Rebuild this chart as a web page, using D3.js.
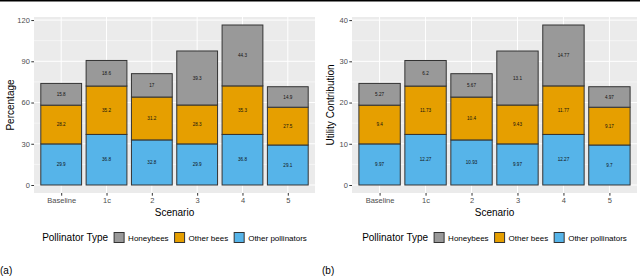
<!DOCTYPE html>
<html><head><meta charset="utf-8">
<script src="https://cdn.jsdelivr.net/npm/d3@7"></script>
<style>body{margin:0;background:#fff;} svg{display:block;font-family:"Liberation Sans",Arial,sans-serif;}</style>
</head><body>
<svg id="c" width="640" height="277"></svg>
<script>
const scenarios = ["Baseline","1c","2","3","4","5"];
const types = ["Other pollinators","Other bees","Honeybees"];
const legendOrder = ["Honeybees","Other bees","Other pollinators"];
const colors = {"Honeybees":"#999999","Other bees":"#E69F00","Other pollinators":"#56B4E9"};

// Panel (a): Percentage
const pctOtherPollinators = [29.9, 36.8, 32.8, 29.9, 36.8, 29.1];
const pctOtherBees = [28.2, 35.2, 31.2, 28.3, 35.3, 27.5];
const pctHoneybees = [15.8, 18.6, 17, 39.3, 44.3, 14.9];
const pctLabelsOP = ["29.9","36.8","32.8","29.9","36.8","29.1"];
const pctLabelsOB = ["28.2","35.2","31.2","28.3","35.3","27.5"];
const pctLabelsHB = ["15.8","18.6","17","39.3","44.3","14.9"];
const pctTicks = [0,30,60,90,120];

// Panel (b): Utility Contribution
const utilOtherPollinators = [9.97, 12.27, 10.93, 9.97, 12.27, 9.7];
const utilOtherBees = [9.4, 11.73, 10.4, 9.43, 11.77, 9.17];
const utilHoneybees = [5.27, 6.2, 5.67, 13.1, 14.77, 4.97];
const utilLabelsOP = ["9.97","12.27","10.93","9.97","12.27","9.7"];
const utilLabelsOB = ["9.4","11.73","10.4","9.43","11.77","9.17"];
const utilLabelsHB = ["5.27","6.2","5.67","13.1","14.77","4.97"];
const utilTicks = [0,10,20,30,40];

const svg = d3.select("#c");
svg.append("rect").attr("x",0).attr("y",0).attr("width",640).attr("height",1.5).attr("fill","#000");

function panel(opt){
  const {x0,x1,y0,y1,vals,labels,ticks,minor,ytitle,ytitleX,tag,tagX} = opt;
  const g = svg.append("g");
  const rows = scenarios.map((s,i)=>({scenario:s,"Other pollinators":vals[0][i],"Other bees":vals[1][i],"Honeybees":vals[2][i]}));
  const stack = d3.stack().keys(types)(rows);
  const maxV = d3.max(rows, r=>types.reduce((a,k)=>a+r[k],0));
  const y = d3.scaleLinear().domain([-maxV*0.05, maxV*1.05]).range([y1,y0]);
  const x = d3.scaleBand().domain(scenarios).range([x0,x1]).paddingOuter(0.6/ (1+0.1)).paddingInner(0.1);
  // custom: ggplot discrete axis expansion of 0.6 units and width 0.9
  const unit = (x1-x0)/(scenarios.length-1+1.2);
  const cx = s => x0 + (0.6+scenarios.indexOf(s))*unit;
  const bw = unit*0.9;
  g.append("rect").attr("x",x0).attr("y",y0).attr("width",x1-x0).attr("height",y1-y0).attr("fill","#EBEBEB");
  minor.forEach(v=>g.append("line").attr("x1",x0).attr("x2",x1).attr("y1",y(v)).attr("y2",y(v)).attr("stroke","#fff").attr("stroke-width",0.5));
  ticks.forEach(v=>g.append("line").attr("x1",x0).attr("x2",x1).attr("y1",y(v)).attr("y2",y(v)).attr("stroke","#fff").attr("stroke-width",1));
  scenarios.forEach(s=>g.append("line").attr("x1",cx(s)).attr("x2",cx(s)).attr("y1",y0).attr("y2",y1).attr("stroke","#fff").attr("stroke-width",1));
  stack.forEach((layer,li)=>{
    const key = layer.key;
    const labs = labels[li];
    g.selectAll(null).data(layer).enter().append("rect")
      .attr("x",d=>cx(d.data.scenario)-bw/2).attr("width",bw)
      .attr("y",d=>y(d[1])).attr("height",d=>y(d[0])-y(d[1]))
      .attr("fill",colors[key]).attr("stroke","#333").attr("stroke-width",1);
    g.selectAll(null).data(layer).enter().append("text")
      .attr("x",d=>cx(d.data.scenario)).attr("y",d=>y((d[0]+d[1])/2)+1.6)
      .attr("text-anchor","middle").attr("font-size","4.6px").attr("fill","#111")
      .text((d,i)=>labs[i]);
  });
  // axes
  const ya = d3.axisLeft(y).tickValues(ticks).tickSize(2.7).tickPadding(1.5);
  const yg = g.append("g").attr("transform",`translate(${x0},0)`).call(ya);
  yg.select(".domain").remove();
  yg.selectAll(".tick line").attr("stroke","#333");
  yg.selectAll(".tick text").attr("font-size","7.5px").attr("fill","#4D4D4D").attr("font-family","Liberation Sans, Arial, sans-serif");
  const xa = d3.axisBottom(d3.scalePoint().domain(scenarios).range([cx(scenarios[0]),cx(scenarios[5])])).tickSize(2.7).tickPadding(1.5);
  const xg = g.append("g").attr("transform",`translate(0,${y1})`).call(xa);
  xg.select(".domain").remove();
  xg.selectAll(".tick line").attr("stroke","#333");
  xg.selectAll(".tick text").attr("font-size","7.5px").attr("fill","#4D4D4D").attr("font-family","Liberation Sans, Arial, sans-serif");
  g.append("text").attr("x",(x0+x1)/2).attr("y",215.5).attr("text-anchor","middle").attr("font-size","10px").attr("fill","#000").text("Scenario");
  g.append("text").attr("transform",`translate(${ytitleX},${(y0+y1)/2}) rotate(-90)`).attr("text-anchor","middle").attr("font-size","10px").attr("fill","#000").text(ytitle);
  // legend
  const lg = g.append("g");
  const title = lg.append("text").attr("y",241).attr("font-size","10px").attr("fill","#000").text("Pollinator Type");
  let pos = title.node().getComputedTextLength() + 6;
  legendOrder.forEach(k=>{
    lg.append("rect").attr("x",pos).attr("y",232.5).attr("width",10).attr("height",10).attr("fill",colors[k]).attr("stroke","#333").attr("stroke-width",1);
    pos += 14;
    const t = lg.append("text").attr("x",pos).attr("y",240.5).attr("font-size","8px").attr("fill","#000").text(k);
    pos += t.node().getComputedTextLength() + 6;
  });
  pos -= 6;
  lg.attr("transform",`translate(${(x0+x1)/2 - pos/2},0)`);
  svg.append("text").attr("x",tagX).attr("y",273.5).attr("font-size","10px").attr("fill","#000").text(tag);
}

panel({x0:34,x1:315,y0:17,y1:193,vals:[pctOtherPollinators,pctOtherBees,pctHoneybees],labels:[pctLabelsOP,pctLabelsOB,pctLabelsHB],ticks:pctTicks,minor:[15,45,75,105],ytitle:"Percentage",ytitleX:13.5,tag:"(a)",tagX:0});
panel({x0:352,x1:637,y0:17,y1:193,vals:[utilOtherPollinators,utilOtherBees,utilHoneybees],labels:[utilLabelsOP,utilLabelsOB,utilLabelsHB],ticks:utilTicks,minor:[5,15,25,35],ytitle:"Utility Contribution",ytitleX:333.5,tag:"(b)",tagX:322});
</script>
</body></html>
